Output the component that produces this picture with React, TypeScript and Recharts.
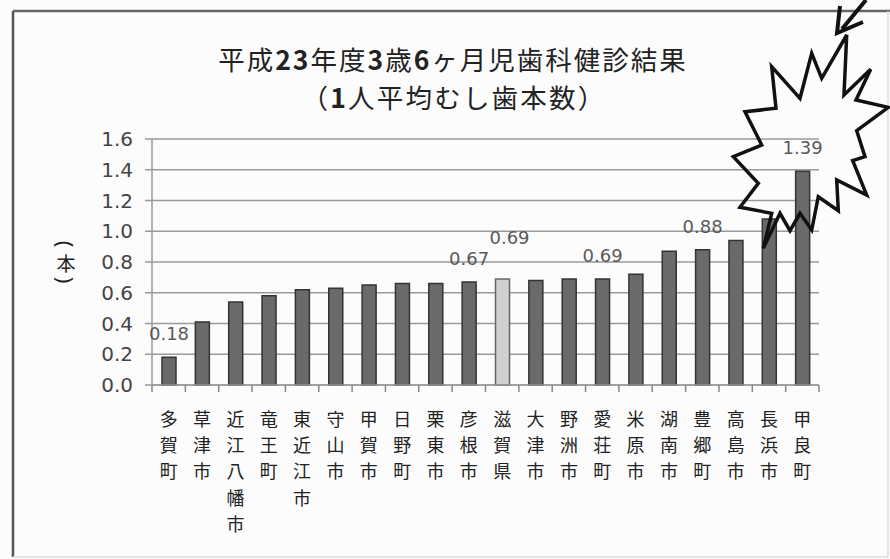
import React from 'react';
import { BarChart, Bar, XAxis, YAxis, CartesianGrid, Cell, LabelList } from 'recharts';

const categories = ['多賀町', '草津市', '近江八幡市', '竜王町', '東近江市', '守山市', '甲賀市', '日野町', '栗東市', '彦根市', '滋賀県', '大津市', '野洲市', '愛荘町', '米原市', '湖南市', '豊郷町', '高島市', '長浜市', '甲良町'];
const values = [0.18, 0.41, 0.54, 0.58, 0.62, 0.63, 0.65, 0.66, 0.66, 0.67, 0.69, 0.68, 0.69, 0.69, 0.72, 0.87, 0.88, 0.94, 1.08, 1.39];
const valueLabels = ['0.18', '', '', '', '', '', '', '', '', '0.67', '0.69', '', '', '0.69', '', '', '0.88', '', '', '1.39'];
const yTicks = [0, 0.2, 0.4, 0.6, 0.8, 1.0, 1.2, 1.4, 1.6];
const prefecture = '滋賀県';

const data = categories.map((name, i) => ({ name, value: values[i], label: valueLabels[i] }));

// starburst outline (zoom coords, 3x, offset 700,0)
const starPts = [
  [440, 105], [432, 285], [512, 208], [468, 300], [565, 322], [470, 392], [495, 470], [458, 482],
  [500, 585], [410, 540], [415, 632], [355, 590], [335, 690], [300, 640], [270, 692], [240, 640],
  [190, 745], [215, 640], [120, 622], [175, 550], [100, 470], [185, 435], [135, 335], [228, 325],
  [215, 200], [300, 295], [335, 160], [365, 235],
];
const starPath = starPts.map(([x, y]) => `${(700 + x / 3).toFixed(1)},${(y / 3).toFixed(1)}`).join(' ');

const BAND = 667 / categories.length;
const CJK = "'Noto Sans CJK JP'";

// vertical (tategaki) category names under each bar, plus boundary ticks
const CategoryTick = (props: any) => {
  const { x, y, payload, index } = props;
  const chars = String(payload.value).split('');
  const left = x - BAND / 2;
  return (
    <g>
      <line x1={left} y1={y} x2={left} y2={y + 7} stroke="#888" strokeWidth={1.5} />
      {index === categories.length - 1 && (
        <line x1={x + BAND / 2} y1={y} x2={x + BAND / 2} y2={y + 7} stroke="#888" strokeWidth={1.5} />
      )}
      {chars.map((c, i) => (
        <text key={i} x={x} y={y + 41 + i * 26.2} textAnchor="middle" fontFamily={CJK} fontSize={18} fill="#222">
          {c}
        </text>
      ))}
    </g>
  );
};

const renderValueLabel = (props: any) => {
  const { x, y, width, value, index } = props;
  if (!value) return null;
  const isPref = categories[index] === prefecture;
  return (
    <text
      x={Number(x) + Number(width) / 2 + (isPref ? 7 : 0)}
      y={Number(y) - (isPref ? 35 : 17)}
      textAnchor="middle"
      fontFamily="'DejaVu Sans'"
      fontSize={18}
      fill="#5a5a5a"
    >
      {value}
    </text>
  );
};

export default function App() {
  return (
    <div style={{ position: 'absolute', left: 0, top: 0, width: 890, height: 559, background: '#fcfcfc', overflow: 'hidden' }}>
      <BarChart width={890} height={559} data={data} margin={{ top: 139, right: 71, left: 92, bottom: 0 }} barSize={14}>
        <CartesianGrid vertical={false} stroke="#9a9a9a" strokeWidth={1.5} />
        <XAxis
          dataKey="name"
          interval={0}
          height={174}
          tickSize={0}
          tickMargin={0}
          tickLine={false}
          axisLine={{ stroke: '#9a9a9a', strokeWidth: 1.5 }}
          tick={<CategoryTick />}
        />
        <YAxis
          width={60}
          domain={[0, 1.6]}
          ticks={yTicks}
          interval={0}
          tickSize={7}
          tickMargin={12}
          tickFormatter={(v: number) => v.toFixed(1)}
          axisLine={{ stroke: '#9a9a9a', strokeWidth: 1.5 }}
          tickLine={{ stroke: '#9a9a9a', strokeWidth: 1.5 }}
          tick={{ fontFamily: 'DejaVu Sans', fontSize: 20, fill: '#444' }}
        />
        <Bar dataKey="value" isAnimationActive={false} strokeWidth={1.5}>
          {data.map((d) => (
            <Cell
              key={d.name}
              fill={d.name === prefecture ? '#d0d0d0' : '#6a6a6a'}
              stroke={d.name === prefecture ? '#666' : '#333'}
            />
          ))}
          <LabelList dataKey="label" content={renderValueLabel} />
        </Bar>
      </BarChart>

      <svg width={890} height={559} style={{ position: 'absolute', left: 0, top: 0, pointerEvents: 'none' }}>
        {/* frame */}
        <line x1={13} y1={11} x2={890} y2={11} stroke="#666" strokeWidth={2.5} />
        <line x1={13} y1={11} x2={13} y2={557} stroke="#555" strokeWidth={2.5} />
        <line x1={13} y1={557} x2={888} y2={557} stroke="#ddd" strokeWidth={1.5} />
        <line x1={888} y1={11} x2={888} y2={557} stroke="#ddd" strokeWidth={1.5} />

        {/* title */}
        <text x={453} y={69.5} textAnchor="middle" fontFamily={CJK} fontSize={26.5} letterSpacing={2} fill="#222">
          平成<tspan fontWeight="bold">23</tspan>年度<tspan fontWeight="bold">3</tspan>歳<tspan fontWeight="bold">6</tspan>ヶ月児歯科健診結果
        </text>
        <text x={454} y={108} textAnchor="middle" fontFamily={CJK} fontSize={26.5} letterSpacing={2.2} fill="#222">
          （<tspan fontWeight="bold">1</tspan>人平均むし歯本数）
        </text>

        {/* y axis unit, written vertically */}
        <text x={66} y={244} textAnchor="middle" dominantBaseline="central" fontFamily="'Noto Sans'" fontSize={22} fill="#222" transform="rotate(90 66 244)">(</text>
        <text x={66} y={262} textAnchor="middle" dominantBaseline="central" fontFamily={CJK} fontSize={19} fill="#222">本</text>
        <text x={66} y={280} textAnchor="middle" dominantBaseline="central" fontFamily="'Noto Sans'" fontSize={22} fill="#222" transform="rotate(90 66 280)">)</text>

        {/* annotation */}
        <polygon points={starPath} fill="none" stroke="#111" strokeWidth={3.5} strokeLinejoin="miter" />
        <line x1={866} y1={0} x2={842} y2={29} stroke="#111" strokeWidth={4} />
        <polyline points="840,6 837,33 863,22" fill="none" stroke="#111" strokeWidth={4} />
      </svg>
    </div>
  );
}
